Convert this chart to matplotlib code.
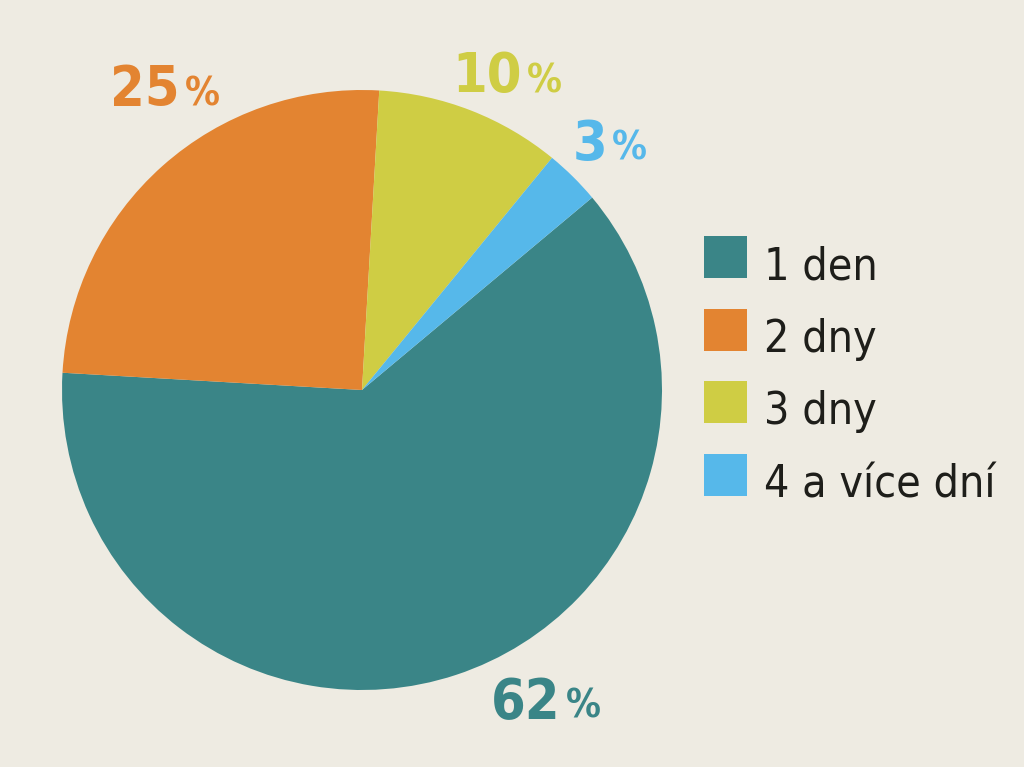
import matplotlib
matplotlib.use("Agg")
import matplotlib.pyplot as plt
import matplotlib.font_manager as fm
from matplotlib.patches import Rectangle

# data
labels = ["1 den", "2 dny", "3 dny", "4 a více dní"]
shares = [62, 25, 10, 3]
colors = ["#3a8587", "#e38431", "#cfcd44", "#56b8ea"]

bg = "#eeebe2"
ink = "#1e1e1a"


def is_bold(f):
    w = f.weight
    return w in ("bold", 700) or (isinstance(w, int) and w >= 700)


def narrow_font(bold):
    # look for a condensed face; the reference uses a condensed grotesk
    found = {}
    for f in fm.fontManager.ttflist:
        name = f.name.lower()
        st = str(f.stretch).lower()
        cond = ("narrow" in name or "condensed" in name or "condensed" in st
                or "narrow" in f.fname.lower() or "condensed" in f.fname.lower())
        if not cond or is_bold(f) != bold or f.style != "normal":
            continue
        if "semi" in f.fname.lower():
            continue
        found.setdefault(f.name, f.fname)
    for pref in ["Liberation Sans Narrow", "DejaVu Sans", "Roboto Condensed"]:
        if pref in found:
            return fm.FontProperties(fname=found[pref])
    if found:
        return fm.FontProperties(fname=sorted(found.values())[0])
    return fm.FontProperties(family="Roboto",
                             weight="bold" if bold else "normal")


fp_bold = narrow_font(True)
fp_reg = narrow_font(False)

fig = plt.figure(figsize=(10.24, 7.67), dpi=100, facecolor=bg)
ax = fig.add_axes([0, 0, 1, 1])
ax.set_facecolor(bg)

wedges, _ = ax.pie(shares, colors=colors, startangle=39.9, counterclock=False,
                   radius=1.0, center=(0, 0), wedgeprops=dict(linewidth=0))

# one unit = 300 px, pie centre at (362, 390) px
ax.set_xlim(-362 / 300, (1024 - 362) / 300)
ax.set_ylim((390 - 767) / 300, 390 / 300)
ax.set_aspect("auto")
ax.axis("off")

# percentage labels: (number right edge, % left edge, baseline)
label_pos = [(0.66, 0.68, -1.093),
             (-0.607, -0.59, 0.95),
             (0.533, 0.55, 0.993),
             (0.817, 0.833, 0.767)]
for val, col, (xn, xp, yb) in zip(shares, colors, label_pos):
    ax.text(xn, yb, str(val), color=col, fontproperties=fp_bold, fontsize=40,
            ha="right", va="baseline")
    ax.text(xp, yb, "%", color=col, fontproperties=fp_bold, fontsize=28,
            ha="left", va="baseline")

# legend drawn as squares and labels
for i, (lab, col) in enumerate(zip(labels, colors)):
    top = 236 + i * 72.7
    ax.add_patch(Rectangle(((704 - 362) / 300, (390 - top - 42) / 300),
                           43 / 300, 42 / 300, color=col, linewidth=0))
    ax.text((764 - 362) / 300, (390 - top - 43) / 300, lab, color=ink,
            fontproperties=fp_reg, fontsize=32, ha="left", va="baseline")

fig.savefig("out.png", dpi=100, facecolor=bg)
